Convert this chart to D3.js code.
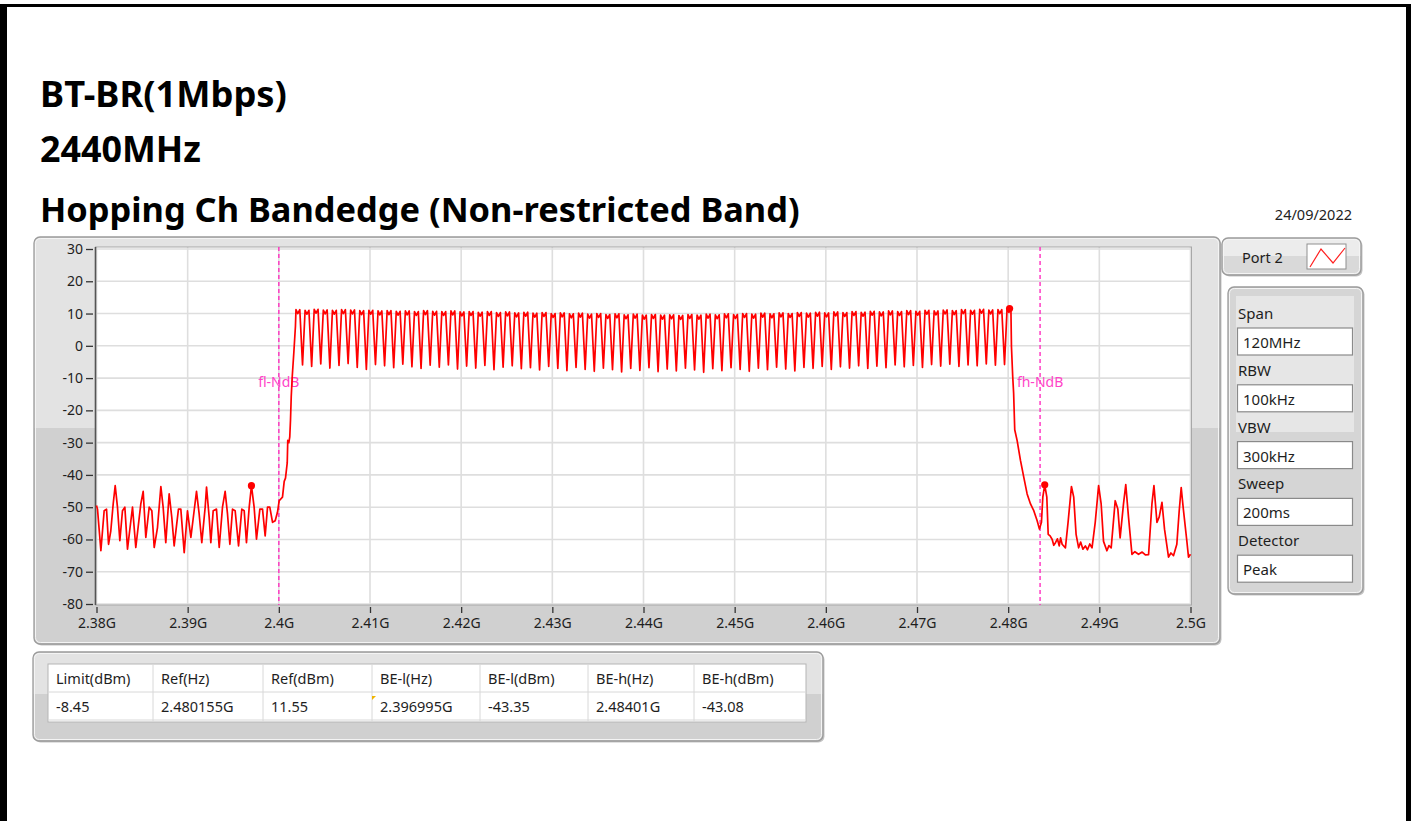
<!DOCTYPE html>
<html>
<head>
<meta charset="utf-8">
<script src="https://cdnjs.cloudflare.com/ajax/libs/d3/7.8.5/d3.min.js"></script>
<style>
  html, body { margin: 0; padding: 0; background: #fff; }
  svg { display: block; }
</style>
</head>
<body>
<svg id="chart" width="1419" height="821"></svg>
<script>
// ---------- report text ----------
const titleLines = ["BT-BR(1Mbps)", "2440MHz", "Hopping Ch Bandedge (Non-restricted Band)"];
const reportDate = "24/09/2022";

// ---------- axes ----------
const xTicksMHz = [2380, 2390, 2400, 2410, 2420, 2430, 2440, 2450, 2460, 2470, 2480, 2490, 2500];
const xTickLabels = ["2.38G", "2.39G", "2.4G", "2.41G", "2.42G", "2.43G", "2.44G", "2.45G", "2.46G", "2.47G", "2.48G", "2.49G", "2.5G"];
const yTicks = [30, 20, 10, 0, -10, -20, -30, -40, -50, -60, -70, -80];

// ---------- trace: [frequency MHz, level dBm] ----------
// below the band: spurious comb from 2380 to 2400 MHz
const lowerSpurs = [
  [2380.00, -49.5], [2380.11, -50.6], [2380.48, -63.5], [2380.84, -51.1], [2381.10, -50.6],
  [2381.32, -61.5], [2381.57, -57.3], [2381.83, -49.0], [2382.05, -43.3], [2382.30, -50.0],
  [2382.56, -60.4], [2382.85, -51.1], [2383.11, -50.0], [2383.40, -63.0], [2383.77, -54.2],
  [2383.95, -50.0], [2384.31, -62.5], [2384.86, -49.0], [2385.12, -45.1], [2385.41, -59.4],
  [2385.78, -50.0], [2386.07, -51.1], [2386.33, -62.5], [2386.69, -56.3], [2387.06, -43.6],
  [2387.31, -50.0], [2387.60, -61.0], [2387.97, -45.9], [2388.26, -53.2], [2388.52, -62.0],
  [2388.99, -50.6], [2389.25, -50.6], [2389.62, -64.1], [2389.98, -51.1], [2390.35, -59.4],
  [2390.71, -51.1], [2390.97, -45.1], [2391.26, -52.1], [2391.55, -61.0], [2391.92, -50.0],
  [2392.07, -43.8], [2392.36, -53.2], [2392.54, -61.0], [2392.80, -51.1], [2393.16, -50.6],
  [2393.46, -62.5], [2393.82, -50.0], [2394.11, -45.1], [2394.37, -52.1], [2394.63, -61.5],
  [2394.92, -50.6], [2395.21, -51.1], [2395.58, -62.0], [2395.94, -50.6], [2396.20, -51.1],
  [2396.45, -61.0], [2396.75, -50.0], [2396.995, -43.35], [2397.29, -50.0], [2397.55, -59.9],
  [2397.92, -50.6], [2398.21, -50.6], [2398.50, -58.9], [2398.76, -50.0], [2399.01, -50.0],
  [2399.31, -54.7], [2399.60, -54.2], [2399.85, -51.6], [2400.04, -48.0], [2400.40, -46.9]
];
// lower band edge rising into the first channel
const lowerEdge = [
  [2400.59, -42.0], [2400.73, -41.0], [2400.92, -36.3], [2400.98, -29.3], [2401.10, -30.0],
  [2401.20, -28.2], [2401.28, -23.0], [2401.36, -15.8], [2401.47, -9.6], [2401.64, -2.3],
  [2401.82, 6.0]
];
// hopping channels 2402 ... 2480 MHz
const channelCenters = d3.range(2402, 2481);
const channelPeaks = [
  11.2, 11.0, 11.3, 11.1, 11.0, 11.2, 11.1, 10.9, 11.0, 10.8,
  10.9, 10.7, 10.8, 10.6, 10.9, 10.7, 10.6, 10.8, 10.5, 10.6,
  10.4, 10.6, 10.3, 10.5, 10.2, 10.4, 10.1, 10.3, 10.0, 10.2,
  9.9, 10.1, 9.8, 10.0, 9.7, 9.9, 9.6, 9.8, 9.5, 9.7,
  9.5, 9.6, 9.4, 9.7, 9.5, 9.8, 9.6, 9.9, 9.7, 10.0,
  9.8, 10.1, 9.9, 10.2, 10.0, 10.3, 10.1, 10.4, 10.2, 10.5,
  10.3, 10.6, 10.4, 10.7, 10.5, 10.8, 10.6, 10.9, 10.7, 11.0,
  10.8, 11.1, 10.9, 11.2, 11.0, 11.3, 11.1, 11.2, 11.55
];
// level between neighbouring channels
const channelDips = [
  -5.9, -6.4, -5.6, -6.9, -6.1, -5.5, -6.7, -7.3, -5.8, -6.2,
  -6.8, -5.7, -6.5, -7.0, -6.0, -6.6, -5.9, -7.2, -6.3, -6.9,
  -6.1, -7.4, -6.6, -6.2, -7.1, -6.8, -7.5, -6.4, -7.0, -7.7,
  -6.7, -7.3, -7.9, -6.9, -7.4, -8.1, -7.0, -7.6, -6.8, -8.0,
  -7.2, -7.8, -6.9, -7.5, -8.2, -7.1, -7.7, -6.8, -7.3, -7.9,
  -6.9, -7.4, -6.6, -7.2, -7.8, -6.7, -7.0, -6.4, -7.3, -6.5,
  -6.9, -6.2, -7.0, -6.3, -6.8, -5.9, -6.5, -6.1, -6.7, -5.8,
  -6.3, -5.7, -6.4, -5.9, -6.2, -5.6, -6.0, -5.8
];
// upper band edge roll-off and spurs up to 2500 MHz
const upperEdge = [
  [2480.36, -0.2], [2480.50, -9.6], [2480.60, -14.7], [2480.72, -26.0], [2480.98, -29.3],
  [2481.35, -35.5], [2481.71, -40.7], [2482.08, -45.9], [2482.45, -49.0], [2482.81, -51.1],
  [2483.18, -54.2], [2483.43, -56.8], [2483.65, -54.7], [2483.80, -46.9], [2484.01, -43.08],
  [2484.24, -46.9], [2484.39, -58.4], [2484.60, -58.9], [2484.83, -60.0], [2485.00, -61.8],
  [2485.19, -61.0], [2485.40, -59.8], [2485.60, -62.0], [2485.75, -59.5], [2485.92, -61.5],
  [2486.28, -62.6], [2486.57, -54.7], [2486.94, -43.6], [2487.19, -46.9], [2487.45, -58.4],
  [2487.73, -62.6], [2487.95, -60.8], [2488.20, -63.0], [2488.47, -62.0], [2488.70, -63.2],
  [2488.95, -61.4], [2489.20, -62.6], [2489.55, -54.7], [2489.92, -43.3], [2490.20, -49.0],
  [2490.46, -60.6], [2490.83, -63.5], [2491.05, -61.9], [2491.30, -62.6], [2491.74, -48.0],
  [2492.03, -50.6], [2492.28, -59.5], [2492.65, -49.0], [2492.90, -43.0], [2493.20, -53.1],
  [2493.58, -64.6], [2493.90, -63.8], [2494.30, -64.6], [2494.70, -63.9], [2495.05, -64.8],
  [2495.40, -64.7], [2495.77, -49.0], [2495.99, -43.3], [2496.32, -54.7], [2496.57, -53.0],
  [2496.87, -48.5], [2497.15, -56.8], [2497.59, -65.5], [2497.85, -64.2], [2498.14, -65.0],
  [2498.50, -61.5], [2498.76, -51.2], [2498.98, -43.9], [2499.23, -51.0], [2499.60, -60.5],
  [2499.78, -65.5], [2500.00, -64.6]
];

// ---------- markers, band-edge lines, settings, result table ----------
const markerPoints = [[2396.995, -43.35], [2480.155, 11.55], [2484.01, -43.08]];
const edgeLineFreqs = [2400.0, 2483.5];
const edgeLineLabels = ["fl-NdB", "fh-NdB"];
const settingNames = ["Span", "RBW", "VBW", "Sweep", "Detector"];
const settingValues = ["120MHz", "100kHz", "300kHz", "200ms", "Peak"];
const tableHeaders = ["Limit(dBm)", "Ref(Hz)", "Ref(dBm)", "BE-l(Hz)", "BE-l(dBm)", "BE-h(Hz)", "BE-h(dBm)"];
const tableValues = ["-8.45", "2.480155G", "11.55", "2.396995G", "-43.35", "2.48401G", "-43.08"];

// ---------- drawing ----------
const FONT = "'Noto Sans', 'Open Sans', sans-serif";
const svg = d3.select("#chart");
const defs = svg.append("defs");

function silverGradient(id, light, dark, split) {
  const g = defs.append("linearGradient").attr("id", id)
    .attr("x1", 0).attr("y1", 0).attr("x2", 0).attr("y2", 1);
  g.append("stop").attr("offset", 0).attr("stop-color", light);
  g.append("stop").attr("offset", split).attr("stop-color", light);
  g.append("stop").attr("offset", split).attr("stop-color", dark);
  g.append("stop").attr("offset", 1).attr("stop-color", dark);
}
silverGradient("panelFill", "#e3e3e3", "#d0d0d0", 0.47);
silverGradient("smallFill", "#ececec", "#d9d9d9", 0.5);

function panel(x, y, w, h, fill) {
  svg.append("rect").attr("x", x + 1.5).attr("y", y + 1.5).attr("width", w).attr("height", h)
    .attr("rx", 6).attr("fill", "#c4c4c4");
  svg.append("rect").attr("x", x).attr("y", y).attr("width", w).attr("height", h)
    .attr("rx", 6).attr("fill", fill).attr("stroke", "#9b9b9b").attr("stroke-width", 1.3);
  svg.append("rect").attr("x", x + 1.5).attr("y", y + 1.5).attr("width", w - 3).attr("height", h - 3)
    .attr("rx", 5).attr("fill", "none").attr("stroke", "#f4f4f4").attr("stroke-width", 1);
}

// page frame
svg.append("rect").attr("x", 0).attr("y", 0).attr("width", 1419).attr("height", 821).attr("fill", "#fff");
svg.append("rect").attr("x", 0).attr("y", 4).attr("width", 1411).attr("height", 3).attr("fill", "#000");
svg.append("rect").attr("x", 0).attr("y", 4).attr("width", 7).attr("height", 817).attr("fill", "#000");
svg.append("rect").attr("x", 1406).attr("y", 4).attr("width", 5).attr("height", 817).attr("fill", "#000");

// titles, each sized to its set width
const titleG = svg.append("g").attr("font-family", FONT).attr("font-weight", 700).attr("fill", "#000");
const titleBaselines = [107, 162, 222];
const titleWidths = [247, 161, 760];
titleLines.forEach((t, i) => {
  const node = titleG.append("text").attr("x", 40).attr("y", titleBaselines[i]).attr("font-size", 30).text(t);
  const w = node.node().getComputedTextLength();
  node.attr("font-size", 30 * titleWidths[i] / w);
});

svg.append("text").attr("x", 1352).attr("y", 214).attr("text-anchor", "end")
  .attr("dominant-baseline", "central").attr("font-family", FONT).attr("font-size", 14.5)
  .attr("fill", "#222").text(reportDate);

// chart panel
panel(34, 237, 1186, 407, "url(#panelFill)");

const x = d3.scaleLinear().domain([2380, 2500]).range([96.5, 1190.5]);
const y = d3.scaleLinear().domain([-80, 30]).range([604, 249]);
const plotTop = 247, plotBottom = 605, plotLeft = 95.5, plotRight = 1191.5;

svg.append("rect").attr("x", plotLeft).attr("y", plotTop)
  .attr("width", plotRight - plotLeft).attr("height", plotBottom - plotTop).attr("fill", "#fff");

const grid = svg.append("g").attr("stroke", "#dedede").attr("stroke-width", 1.6);
grid.selectAll("line.v").data(xTicksMHz).join("line").attr("class", "v")
  .attr("x1", d => x(d)).attr("x2", d => x(d)).attr("y1", plotTop).attr("y2", plotBottom);
grid.selectAll("line.h").data(yTicks).join("line").attr("class", "h")
  .attr("x1", plotLeft).attr("x2", plotRight).attr("y1", d => y(d)).attr("y2", d => y(d));

// plot frame
svg.append("rect").attr("x", plotLeft).attr("y", plotTop)
  .attr("width", plotRight - plotLeft).attr("height", plotBottom - plotTop)
  .attr("fill", "none").attr("stroke", "#a8a8a8").attr("stroke-width", 1);
svg.append("line").attr("x1", plotLeft).attr("x2", plotLeft).attr("y1", plotTop).attr("y2", plotBottom)
  .attr("stroke", "#555").attr("stroke-width", 1.6);

// axes
const yAxis = d3.axisLeft(y).tickValues(yTicks).tickFormat(d => String(d)).tickSize(7).tickPadding(3);
const yAxisG = svg.append("g").attr("transform", "translate(93,0)").call(yAxis);
const xAxis = d3.axisBottom(x).tickValues(xTicksMHz).tickFormat((d, i) => xTickLabels[i]).tickSize(6).tickPadding(5);
const xAxisG = svg.append("g").attr("transform", "translate(0,607)").call(xAxis);
[yAxisG, xAxisG].forEach(g => {
  g.select(".domain").remove();
  g.selectAll(".tick line").attr("stroke", "#333").attr("stroke-width", 1.3);
  g.selectAll(".tick text").attr("font-family", FONT).attr("font-size", 14).attr("fill", "#1e1e1e");
});

// band-edge lines
edgeLineFreqs.forEach((f, i) => {
  svg.append("line").attr("x1", x(f)).attr("x2", x(f)).attr("y1", plotTop).attr("y2", plotBottom)
    .attr("stroke", "#ff2fc0").attr("stroke-width", 1.4).attr("stroke-dasharray", "4,3");
  svg.append("text").attr("x", x(f)).attr("y", y(-11)).attr("text-anchor", "middle")
    .attr("dominant-baseline", "central").attr("font-family", FONT).attr("font-size", 14)
    .attr("fill", "#ff44c8").text(edgeLineLabels[i]);
});

// trace assembly: each channel has a flat top with a small notch, then the dip to the next one
const inBand = [];
channelCenters.forEach((c, i) => {
  inBand.push([c - 0.12, channelPeaks[i]]);
  inBand.push([c + 0.08, channelPeaks[i] - 1.2]);
  inBand.push([c + 0.3, channelPeaks[i]]);
  if (i < channelDips.length) inBand.push([c + 0.6, channelDips[i]]);
});
const trace = lowerSpurs.concat(lowerEdge, inBand, upperEdge);

const line = d3.line().x(d => x(d[0])).y(d => y(d[1]));
svg.append("path").datum(trace).attr("d", line)
  .attr("fill", "none").attr("stroke", "#ff0000").attr("stroke-width", 1.7).attr("stroke-linejoin", "round");

svg.selectAll("circle.marker").data(markerPoints).join("circle").attr("class", "marker")
  .attr("cx", d => x(d[0])).attr("cy", d => y(d[1])).attr("r", 3.6).attr("fill", "#ff0000");

// legend box
panel(1222, 238, 139, 37, "url(#smallFill)");
svg.append("text").attr("x", 1242).attr("y", 257).attr("dominant-baseline", "central")
  .attr("font-family", FONT).attr("font-size", 14.5).attr("fill", "#1e1e1e").text("Port 2");
svg.append("rect").attr("x", 1307).attr("y", 244).attr("width", 39).attr("height", 25)
  .attr("fill", "#fff").attr("stroke", "#8f8f8f").attr("stroke-width", 1);
svg.append("polyline").attr("points", "1310,267 1321,249 1333,263 1345,248")
  .attr("fill", "none").attr("stroke", "#ff2020").attr("stroke-width", 1.2);

// settings panel
panel(1228, 287, 135, 307, "#d5d5d5");
svg.append("rect").attr("x", 1236).attr("y", 296).attr("width", 118).attr("height", 136).attr("fill", "#e6e6e6");
const setG = svg.append("g").attr("font-family", FONT).attr("font-size", 15).attr("fill", "#1e1e1e");
settingNames.forEach((name, i) => {
  const top = 313 + i * 56.8;
  setG.append("text").attr("x", 1238).attr("y", top).attr("dominant-baseline", "central").text(name);
  setG.append("rect").attr("x", 1237.5).attr("y", top + 15).attr("width", 115).attr("height", 27)
    .attr("fill", "#fff").attr("stroke", "#8a8a8a").attr("stroke-width", 1.2);
  setG.append("text").attr("x", 1243).attr("y", top + 29).attr("dominant-baseline", "central").text(settingValues[i]);
});

// result table
panel(33, 652, 790, 89, "url(#panelFill)");
const colEdges = [48, 153, 263, 372, 480, 588, 694, 806];
svg.append("rect").attr("x", 48).attr("y", 664).attr("width", 758).attr("height", 58)
  .attr("fill", "#fff").attr("stroke", "#b5b5b5").attr("stroke-width", 1);
const tab = svg.append("g");
tab.selectAll("line.col").data(colEdges.slice(1, -1)).join("line").attr("class", "col")
  .attr("x1", d => d).attr("x2", d => d).attr("y1", 664).attr("y2", 722)
  .attr("stroke", "#d8d8d8").attr("stroke-width", 1);
[692, 720].forEach(yy => tab.append("line").attr("x1", 48).attr("x2", 806).attr("y1", yy).attr("y2", yy)
  .attr("stroke", "#d8d8d8").attr("stroke-width", 1));
const tabText = svg.append("g").attr("font-family", FONT).attr("font-size", 14.5).attr("fill", "#1e1e1e");
tableHeaders.forEach((h, i) => {
  tabText.append("text").attr("x", colEdges[i] + 8).attr("y", 678).attr("dominant-baseline", "central").text(h);
  tabText.append("text").attr("x", colEdges[i] + 8).attr("y", 706).attr("dominant-baseline", "central").text(tableValues[i]);
});
svg.append("polygon").attr("points", "372,696 376,696 372,700").attr("fill", "#f0b400");
</script>
</body>
</html>
